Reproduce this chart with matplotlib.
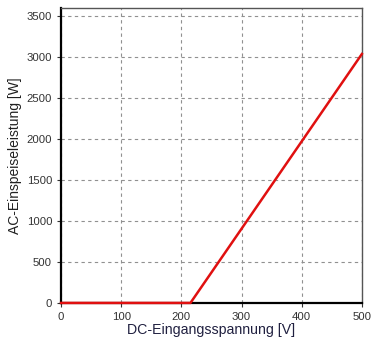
import matplotlib
matplotlib.use('Agg')
import matplotlib.pyplot as plt

plt.rcParams['font.family'] = ['Liberation Sans', 'DejaVu Sans']

# DC input voltage [V] vs. AC feed-in power [W]
voltage = [0, 215, 500]
power = [0, 0, 3040]

x_ticks = [0, 100, 200, 300, 400, 500]
y_ticks = [0, 500, 1000, 1500, 2000, 2500, 3000, 3500]

fig = plt.figure(figsize=(3.75, 3.4), dpi=100)
ax = fig.add_axes([0.163, 0.109, 0.802, 0.867])

ax.plot(voltage, power, color='#e01010', linewidth=1.8, zorder=3, clip_on=False)

ax.set_xlim(0, 500)
ax.set_ylim(0, 3600)
ax.set_xticks(x_ticks)
ax.set_yticks(y_ticks)
ax.grid(True, linestyle=(0, (3, 3)), color='#909090', linewidth=0.8)
ax.tick_params(labelsize=8.2, length=3, width=0.8, color='#333333',
               labelcolor='#333333')

for side in ['left', 'bottom']:
    ax.spines[side].set_linewidth(1.6)
    ax.spines[side].set_color('black')
for side in ['top', 'right']:
    ax.spines[side].set_linewidth(1.0)
    ax.spines[side].set_color('#555555')

ax.set_xlabel('DC-Eingangsspannung [V]', fontsize=10.2, labelpad=1,
              color='#202040')
ax.set_ylabel('AC-Einspeiseleistung [W]', fontsize=10, labelpad=3,
              color='#202020')

fig.savefig('out.png', dpi=100)
